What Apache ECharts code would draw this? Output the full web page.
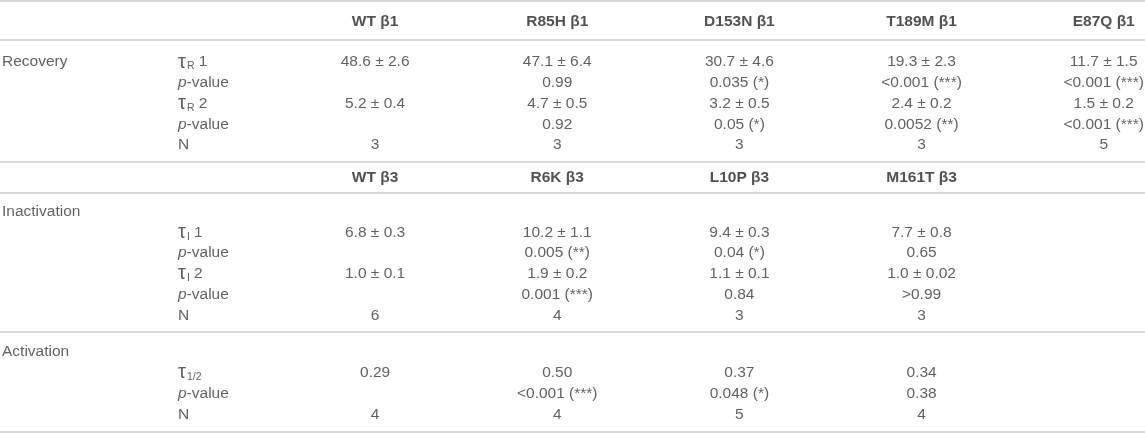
<!DOCTYPE html>
<html>
<head>
<meta charset="utf-8">
<script src="https://cdn.jsdelivr.net/npm/echarts@6/dist/echarts.min.js"></script>
<style>
html,body{margin:0;padding:0;background:#fff;}
#chart{width:1145px;height:433px;}
</style>
</head>
<body>
<div id="chart"></div>
<script>
// ---------- table content ----------
const headersB1 = ['WT β1', 'R85H β1', 'D153N β1', 'T189M β1', 'E87Q β1'];
const headersB3 = ['WT β3', 'R6K β3', 'L10P β3', 'M161T β3'];

const recoveryGroup = 'Recovery';
const recoveryParams = ['τ_R 1', 'p-value', 'τ_R 2', 'p-value', 'N'];
const recoveryValues = [
  ['48.6 ± 2.6', '47.1 ± 6.4', '30.7 ± 4.6', '19.3 ± 2.3', '11.7 ± 1.5'],
  ['', '0.99', '0.035 (*)', '<0.001 (***)', '<0.001 (***)'],
  ['5.2 ± 0.4', '4.7 ± 0.5', '3.2 ± 0.5', '2.4 ± 0.2', '1.5 ± 0.2'],
  ['', '0.92', '0.05 (*)', '0.0052 (**)', '<0.001 (***)'],
  ['3', '3', '3', '3', '5']
];

const inactivationGroup = 'Inactivation';
const inactivationParams = ['τ_I 1', 'p-value', 'τ_I 2', 'p-value', 'N'];
const inactivationValues = [
  ['6.8 ± 0.3', '10.2 ± 1.1', '9.4 ± 0.3', '7.7 ± 0.8'],
  ['', '0.005 (**)', '0.04 (*)', '0.65'],
  ['1.0 ± 0.1', '1.9 ± 0.2', '1.1 ± 0.1', '1.0 ± 0.02'],
  ['', '0.001 (***)', '0.84', '>0.99'],
  ['6', '4', '3', '3']
];

const activationGroup = 'Activation';
const activationParams = ['τ_1/2', 'p-value', 'N'];
const activationValues = [
  ['0.29', '0.50', '0.37', '0.34'],
  ['', '<0.001 (***)', '0.048 (*)', '0.38'],
  ['4', '4', '5', '4']
];

// ---------- layout ----------
const W = 1145, COLW = 182.15, FIRSTCOL = 10.8, PITCH = 20.75;
const GROUP_X = 2, PARAM_X = 178;
const FS = 15.5;
const FONT = '"Liberation Sans", Helvetica, Arial, sans-serif';
const TXT = '#383838', LINE = '#d9d9d9';
const blocks = [
  { top: 1,   height: 39,  offset: 21 },   // header β1
  { top: 40,  height: 122, offset: 22 },   // recovery
  { top: 162, height: 31,  offset: 15.5 }, // header β3
  { top: 193, height: 139, offset: 18.5 }, // inactivation
  { top: 332, height: 100, offset: 20 }    // activation
];

const xMin = -FIRSTCOL / COLW, xMax = xMin + W / COLW;

function richText(s) {
  if (s.startsWith('τ_')) {
    const rest = s.slice(2);
    const sp = rest.indexOf(' ');
    const sub = sp >= 0 ? rest.slice(0, sp) : rest;
    const tail = sp >= 0 ? rest.slice(sp) : '';
    return '{tau|τ}{sub|' + sub + '}' + (tail ? '{n|' + tail + '}' : '');
  }
  if (s.startsWith('p-')) return '{it|p}{n|' + s.slice(1) + '}';
  return s;
}

const rich = {
  tau: { fontSize: 20, fontFamily: FONT, color: TXT },
  sub: { fontSize: 10.5, fontFamily: FONT, color: TXT, padding: [9, 0, 0, 1] },
  it: { fontSize: FS, fontFamily: FONT, color: TXT, fontStyle: 'italic' },
  n: { fontSize: FS, fontFamily: FONT, color: TXT }
};

const grids = [], xAxes = [], yAxes = [], series = [];
blocks.forEach((b, i) => {
  grids.push({ left: 0, right: 0, top: b.top, height: b.height });
  const yMin = -b.offset / PITCH;
  xAxes.push({
    gridIndex: i, type: 'value', min: xMin, max: xMax, position: 'bottom',
    axisLine: { show: true, onZero: false, lineStyle: { color: LINE, width: 2 } },
    axisTick: { show: false }, axisLabel: { show: false }, splitLine: { show: false }
  });
  yAxes.push({
    gridIndex: i, type: 'value', inverse: true, min: yMin, max: yMin + b.height / PITCH,
    show: false, splitLine: { show: false }
  });
});
// top rule
xAxes.push({
  gridIndex: 0, type: 'value', min: xMin, max: xMax, position: 'top',
  axisLine: { show: true, onZero: false, lineStyle: { color: LINE, width: 2 } },
  axisTick: { show: false }, axisLabel: { show: false }, splitLine: { show: false }
});

function textSeries(gi, data, opts) {
  series.push({
    type: 'scatter', xAxisIndex: gi, yAxisIndex: gi, silent: true,
    symbolSize: 1, itemStyle: { color: 'rgba(0,0,0,0)' },
    data: data,
    label: Object.assign({
      show: true, position: 'inside', fontFamily: FONT, fontSize: FS, color: TXT,
      formatter: p => richText(p.value[2]), rich: rich
    }, opts || {})
  });
}

const colPx = j => FIRSTCOL + j * COLW;

function header(gi, names) {
  textSeries(gi, names.map((n, c) => [c + 2, 0, n]), { fontWeight: 'bold', color: '#262626', align: 'center' });
}
function body(gi, group, params, values, groupOwnRow) {
  const shift = groupOwnRow ? 1 : 0;
  textSeries(gi, [[0, 0, group]], { align: 'left', offset: [GROUP_X - colPx(0), 0] });
  textSeries(gi, params.map((p, r) => [1, r + shift, p]), { align: 'left', offset: [PARAM_X - colPx(1), 0] });
  const cells = [];
  values.forEach((row, r) => row.forEach((v, c) => { if (v) cells.push([c + 2, r + shift, v]); }));
  textSeries(gi, cells, { align: 'center' });
}

header(0, headersB1);
body(1, recoveryGroup, recoveryParams, recoveryValues, false);
header(2, headersB3);
body(3, inactivationGroup, inactivationParams, inactivationValues, true);
body(4, activationGroup, activationParams, activationValues, true);

const chart = echarts.init(document.getElementById('chart'), null, { renderer: 'canvas' });
chart.setOption({
  animation: false,
  backgroundColor: '#fff',
  grid: grids, xAxis: xAxes, yAxis: yAxes, series: series
});
</script>
</body>
</html>
